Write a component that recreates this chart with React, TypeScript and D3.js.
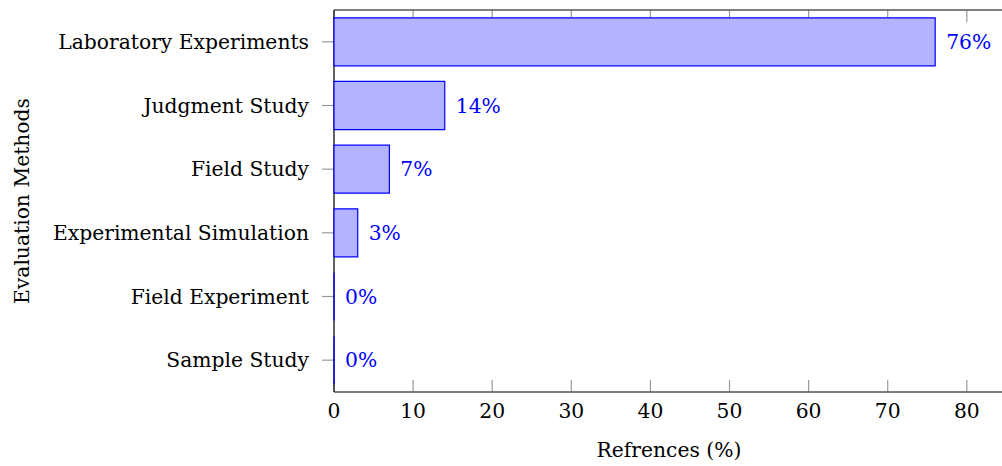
import React from "react";
import * as d3 from "d3";

const categories = [
  "Laboratory Experiments",
  "Judgment Study",
  "Field Study",
  "Experimental Simulation",
  "Field Experiment",
  "Sample Study",
];
const values = [76, 14, 7, 3, 0, 0];
const labels = ["76%", "14%", "7%", "3%", "0%", "0%"];
const xTicks = [0, 10, 20, 30, 40, 50, 60, 70, 80];

const W = 1002;
const H = 466;
const left = 334;
const right = 1004;
const top = 10;
const bottom = 392;
const FONT = "'DejaVu Serif', serif";
const FS = 20.3;

export default function App() {
  const x = d3.scaleLinear().domain([0, 84.7]).range([left, right]);
  const y = d3.scaleBand().domain(categories).range([top, bottom]).paddingInner(0).paddingOuter(0);
  const bh = y.bandwidth() * 0.755;
  const tickLen = 12;
  return (
    <svg width={W} height={H} style={{ position: "absolute", left: 0, top: 0 }}>
      <rect width={W} height={H} fill="#fff" />
      {xTicks.map((t) => (
        <g key={t}>
          <line x1={x(t)} x2={x(t)} y1={bottom} y2={bottom - tickLen} stroke="#999" strokeWidth={1.2} />
          <line x1={x(t)} x2={x(t)} y1={top} y2={top + tickLen} stroke="#999" strokeWidth={1.2} />
          <text x={x(t)} y={418} textAnchor="middle" fontFamily={FONT} fontSize={FS} fill="#000">
            {t}
          </text>
        </g>
      ))}
      {categories.map((c) => {
        const cy = (y(c) as number) + y.bandwidth() / 2;
        return (
          <g key={c}>
            <line x1={left - tickLen} x2={left} y1={cy} y2={cy} stroke="#999" strokeWidth={1.2} />
            <text x={309} y={cy} dy="0.36em" textAnchor="end" fontFamily={FONT} fontSize={FS} fill="#000">
              {c}
            </text>
          </g>
        );
      })}
      <line x1={left} x2={right} y1={top} y2={top} stroke="#555" strokeWidth={1.4} />
      <line x1={left} x2={right} y1={bottom} y2={bottom} stroke="#555" strokeWidth={1.4} />
      <line x1={left} x2={left} y1={top} y2={bottom} stroke="#222" strokeWidth={1.4} />
      {categories.map((c, i) => {
        const cy = (y(c) as number) + y.bandwidth() / 2;
        const x0 = x(0);
        const x1 = x(values[i]);
        const y0 = cy - bh / 2;
        const y1 = cy + bh / 2;
        const p = d3.path();
        p.moveTo(x0, y0);
        p.lineTo(x1, y0);
        p.lineTo(x1, y1);
        p.lineTo(x0, y1);
        p.closePath();
        return (
          <g key={c}>
            <path d={p.toString()} fill="#b3b3ff" stroke="#0000ff" strokeWidth={1.2} />
            <text x={x1 + 11} y={cy} dy="0.36em" fontFamily={FONT} fontSize={FS} fill="#0000ff">
              {labels[i]}
            </text>
          </g>
        );
      })}
      <text x={(left + right) / 2} y={457} textAnchor="middle" fontFamily={FONT} fontSize={FS} fill="#000">
        Refrences (%)
      </text>
      <text
        transform={`translate(29, ${(top + bottom) / 2}) rotate(-90)`}
        textAnchor="middle"
        fontFamily={FONT}
        fontSize={FS}
        fill="#000"
      >
        Evaluation Methods
      </text>
    </svg>
  );
}
